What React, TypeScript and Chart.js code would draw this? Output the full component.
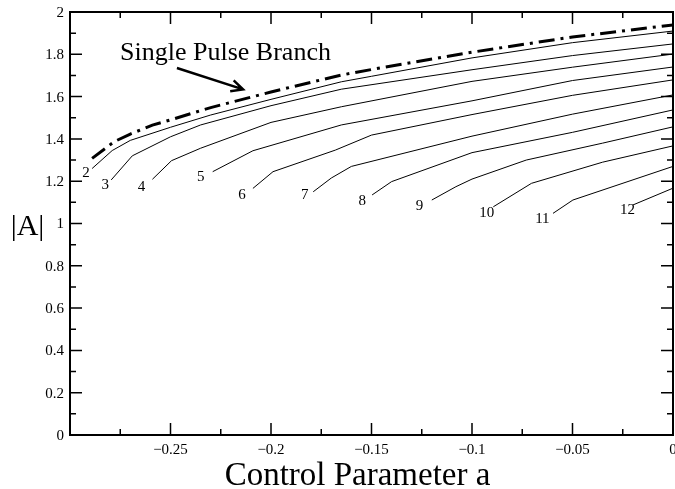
import React, { useEffect, useRef } from "react";
import { Chart, registerables } from "chart.js";

Chart.register(...registerables);

// ---- data ----
const singlePulseA = [-0.289, -0.278, -0.27, -0.259, -0.25, -0.23, -0.2, -0.165, -0.15, -0.1, -0.05, 0];
const singlePulseAmp = [1.308, 1.387, 1.423, 1.465, 1.49, 1.548, 1.622, 1.702, 1.728, 1.81, 1.882, 1.939];

const n2A = [-0.289, -0.279, -0.27, -0.25, -0.23, -0.2, -0.165, -0.15, -0.1, -0.05, 0];
const n2Amp = [1.26, 1.345, 1.393, 1.455, 1.513, 1.587, 1.67, 1.696, 1.783, 1.855, 1.91];
const n3A = [-0.2795, -0.269, -0.25, -0.235, -0.2, -0.165, -0.1, -0.05, 0];
const n3Amp = [1.206, 1.32, 1.41, 1.466, 1.557, 1.635, 1.727, 1.794, 1.849];
const n4A = [-0.259, -0.2495, -0.235, -0.2, -0.165, -0.1, -0.05, 0];
const n4Amp = [1.209, 1.297, 1.356, 1.478, 1.552, 1.672, 1.739, 1.801];
const n5A = [-0.229, -0.209, -0.165, -0.1, -0.05, 0];
const n5Amp = [1.245, 1.344, 1.466, 1.58, 1.676, 1.74];
const n6A = [-0.209, -0.199, -0.168, -0.15, -0.1, -0.05, 0];
const n6Amp = [1.166, 1.245, 1.347, 1.418, 1.515, 1.606, 1.679];
const n7A = [-0.179, -0.17, -0.16, -0.1, -0.05, 0];
const n7Amp = [1.15, 1.215, 1.27, 1.413, 1.517, 1.608];
const n8A = [-0.1497, -0.14, -0.1, -0.05, 0];
const n8Amp = [1.135, 1.198, 1.335, 1.431, 1.537];
const n9A = [-0.12, -0.108, -0.1, -0.073, -0.035, 0];
const n9Amp = [1.111, 1.174, 1.21, 1.3, 1.38, 1.457];
const n10A = [-0.0894, -0.0704, -0.035, 0];
const n10Amp = [1.079, 1.19, 1.29, 1.367];
const n11A = [-0.0597, -0.0498, 0];
const n11Amp = [1.048, 1.111, 1.27];
const n12A = [-0.0201, 0];
const n12Amp = [1.087, 1.167];

const curveLabels = ["2", "3", "4", "5", "6", "7", "8", "9", "10", "11", "12"];
const curveLabelA = [-0.2921, -0.2825, -0.2644, -0.235, -0.2144, -0.1832, -0.1546, -0.1261, -0.0927, -0.065, -0.0226];
const curveLabelAmp = [1.24, 1.182, 1.171, 1.218, 1.135, 1.135, 1.108, 1.083, 1.048, 1.02, 1.064];

const xTickValues = [-0.25, -0.2, -0.15, -0.1, -0.05, 0];
const xTickLabels = ["\u22120.25", "\u22120.2", "\u22120.15", "\u22120.1", "\u22120.05", "0"];
const yTickValues = [0, 0.2, 0.4, 0.6, 0.8, 1, 1.2, 1.4, 1.6, 1.8, 2];
const yTickLabels = ["0", "0.2", "0.4", "0.6", "0.8", "1", "1.2", "1.4", "1.6", "1.8", "2"];

const branchText = "Single Pulse Branch";
const branchTextPos = [-0.2751, 1.773];
const arrowTail = [-0.2468, 1.735];
const arrowTip = [-0.2139, 1.634];

const xTitle = "Control Parameter a";
const yTitle = "|A|";

const X_MIN = -0.3;
const X_MAX = 0;
const Y_MIN = 0;
const Y_MAX = 2;

const SERIF = "'Liberation Serif', 'Times New Roman', serif";

function zip(a: number[], b: number[]) {
  return a.map((v, i) => ({ x: v, y: b[i] }));
}

const decorPlugin = {
  id: "decor",
  afterDatasetsDraw(chart: any) {
    const ctx = chart.ctx as CanvasRenderingContext2D;
    const xs = chart.scales.x;
    const ys = chart.scales.y;
    const area = chart.chartArea;
    const L = area.left, R = area.right, T = area.top, B = area.bottom;
    ctx.save();

    // ticks inside on all four sides
    ctx.strokeStyle = "#000";
    ctx.lineWidth = 1.5;
    ctx.beginPath();
    for (let i = 1; i < 12; i++) {
      const v = X_MIN + i * 0.025;
      const px = xs.getPixelForValue(v);
      const len = i % 2 === 0 ? 12 : 6;
      ctx.moveTo(px, B);
      ctx.lineTo(px, B - len);
      ctx.moveTo(px, T);
      ctx.lineTo(px, T + len);
    }
    for (let i = 1; i < 20; i++) {
      const v = Y_MIN + i * 0.1;
      const py = ys.getPixelForValue(v);
      const len = i % 2 === 0 ? 12 : 6;
      ctx.moveTo(L, py);
      ctx.lineTo(L + len, py);
      ctx.moveTo(R, py);
      ctx.lineTo(R - len, py);
    }
    ctx.stroke();

    // frame
    ctx.lineWidth = 2;
    ctx.strokeRect(L, T, R - L, B - T);

    // tick labels
    ctx.fillStyle = "#000";
    ctx.font = "15px " + SERIF;
    ctx.textAlign = "center";
    ctx.textBaseline = "alphabetic";
    xTickValues.forEach((v, i) => {
      ctx.fillText(xTickLabels[i], xs.getPixelForValue(v), B + 18.5);
    });
    ctx.textAlign = "right";
    ctx.textBaseline = "middle";
    yTickValues.forEach((v, i) => {
      ctx.fillText(yTickLabels[i], L - 6, ys.getPixelForValue(v) + 1);
    });

    // curve labels
    ctx.textAlign = "center";
    ctx.textBaseline = "middle";
    ctx.font = "15px " + SERIF;
    curveLabels.forEach((t, i) => {
      ctx.fillText(t, xs.getPixelForValue(curveLabelA[i]), ys.getPixelForValue(curveLabelAmp[i]));
    });

    // branch text
    ctx.font = "26px " + SERIF;
    ctx.textAlign = "left";
    ctx.textBaseline = "alphabetic";
    ctx.fillText(branchText, xs.getPixelForValue(branchTextPos[0]), ys.getPixelForValue(branchTextPos[1]));

    // arrow
    const x0 = xs.getPixelForValue(arrowTail[0]);
    const y0 = ys.getPixelForValue(arrowTail[1]);
    const x1 = xs.getPixelForValue(arrowTip[0]);
    const y1 = ys.getPixelForValue(arrowTip[1]);
    const ang = Math.atan2(y1 - y0, x1 - x0);
    ctx.lineWidth = 2.5;
    ctx.lineCap = "butt";
    ctx.beginPath();
    ctx.moveTo(x0, y0);
    ctx.lineTo(x1, y1);
    const head = 13;
    const spread = 0.45;
    ctx.moveTo(x1 - head * Math.cos(ang - spread), y1 - head * Math.sin(ang - spread));
    ctx.lineTo(x1, y1);
    ctx.lineTo(x1 - head * Math.cos(ang + spread), y1 - head * Math.sin(ang + spread));
    ctx.stroke();

    // axis titles
    ctx.font = "33px " + SERIF;
    ctx.textAlign = "center";
    ctx.textBaseline = "alphabetic";
    ctx.fillText(xTitle, 357.5, 485);
    ctx.font = "30px " + SERIF;
    ctx.textBaseline = "middle";
    ctx.fillText(yTitle, 27.5, 227);

    ctx.restore();
  },
};

export default function App() {
  const ref = useRef<HTMLCanvasElement | null>(null);
  useEffect(() => {
    if (!ref.current) return;
    const thin = (a: number[], b: number[]) => ({
      data: zip(a, b),
      borderColor: "#000",
      borderWidth: 1,
      pointRadius: 0,
      tension: 0,
      fill: false,
    });
    const chart = new Chart(ref.current, {
      type: "line",
      data: {
        datasets: [
          {
            data: zip(singlePulseA, singlePulseAmp),
            borderColor: "#000",
            borderWidth: 3,
            borderDash: [16, 6, 3, 6],
            pointRadius: 0,
            tension: 0,
            fill: false,
          },
          thin(n2A, n2Amp),
          thin(n3A, n3Amp),
          thin(n4A, n4Amp),
          thin(n5A, n5Amp),
          thin(n6A, n6Amp),
          thin(n7A, n7Amp),
          thin(n8A, n8Amp),
          thin(n9A, n9Amp),
          thin(n10A, n10Amp),
          thin(n11A, n11Amp),
          thin(n12A, n12Amp),
        ] as any,
      },
      options: {
        animation: false,
        responsive: false,
        maintainAspectRatio: false,
        layout: { padding: { left: 70, right: 2, top: 12, bottom: 54 } },
        plugins: { legend: { display: false }, tooltip: { enabled: false } },
        scales: {
          x: { type: "linear", min: X_MIN, max: X_MAX, display: false },
          y: { type: "linear", min: Y_MIN, max: Y_MAX, display: false },
        },
      },
      plugins: [decorPlugin],
    });
    return () => chart.destroy();
  }, []);
  return (
    <div style={{ position: "fixed", left: 0, top: 0, width: 675, height: 489, background: "#fff" }}>
      <canvas ref={ref} width={675} height={489} style={{ width: 675, height: 489 }} />
    </div>
  );
}
